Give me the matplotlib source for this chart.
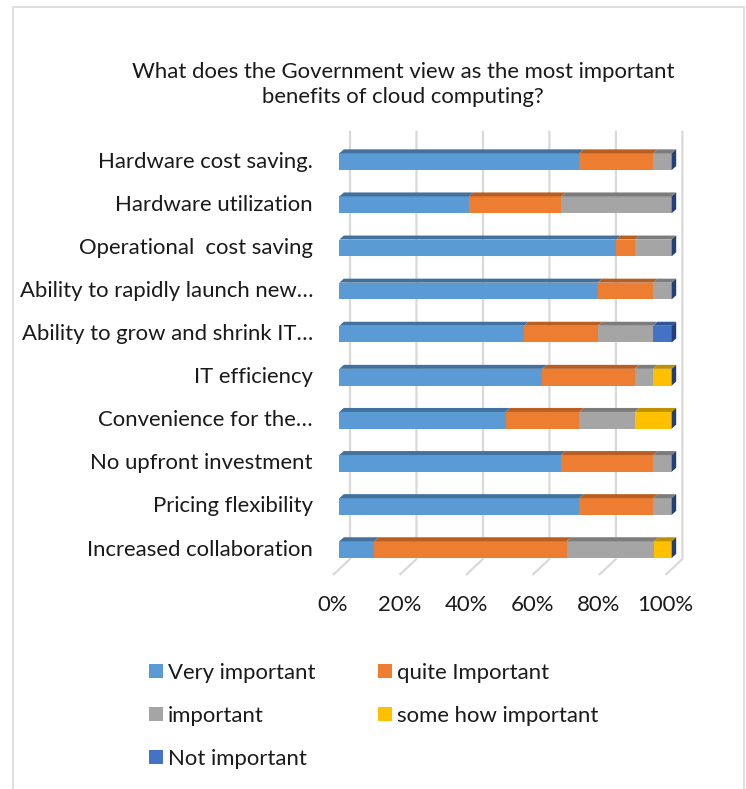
import matplotlib
matplotlib.use("Agg")
import matplotlib.pyplot as plt
from matplotlib.patches import Polygon, Patch, Rectangle
import numpy as np

plt.rcParams["font.family"] = ["Lato", "DejaVu Sans"]

CATEGORIES = [
    "Hardware cost saving.",
    "Hardware utilization",
    "Operational  cost saving",
    "Ability to rapidly launch new\u2026",
    "Ability to grow and shrink IT\u2026",
    "IT efficiency",
    "Convenience for the\u2026",
    "No upfront investment",
    "Pricing flexibility",
    "Increased collaboration",
]
SERIES = ["Very important", "quite Important", "important", "some how important", "Not important"]

# percent of respondents
VERY_IMPORTANT = [72.2, 38.9, 83.3, 77.8, 55.6, 61.1, 50.0, 66.7, 72.2, 10.5]
QUITE_IMPORTANT = [22.2, 27.8, 5.6, 16.7, 22.2, 27.8, 22.2, 27.8, 22.2, 57.9]
IMPORTANT = [5.6, 33.3, 11.1, 5.5, 16.6, 5.5, 16.7, 5.5, 5.6, 26.3]
SOME_HOW = [0.0, 0.0, 0.0, 0.0, 0.0, 5.6, 11.1, 0.0, 0.0, 5.3]
NOT_IMPORTANT = [0.0, 0.0, 0.0, 0.0, 5.6, 0.0, 0.0, 0.0, 0.0, 0.0]
TICKS = [0, 20, 40, 60, 80, 100]
TICK_LABELS = ["0%", "20%", "40%", "60%", "80%", "100%"]

FRONT = ["#5B9BD5", "#ED7D31", "#A5A5A5", "#FFC000", "#4472C4"]
TOP = ["#41719C", "#B85E22", "#7C7C7C", "#BF9000", "#2F5597"]
SIDE = "#233F7A"
GRID = "#D9D9D9"
TEXT = "#1A1A1A"
FS = 15.9

W, H = 746, 789
fig = plt.figure(figsize=(W / 100, H / 100), dpi=100)

# axes placed so that 0..100% spans the front face of the bars
x0, x1 = 339.3, 671.7
rowTop, rowStep = 161.7, 43.1
yTopPx = rowTop - 0.5 * rowStep
yBotPx = rowTop + 9.5 * rowStep
ax = fig.add_axes([x0 / W, 1 - yBotPx / H, (x1 - x0) / W, (yBotPx - yTopPx) / H])
ax.set_xlim(0, 100)
ax.set_ylim(9.5, -0.5)
ax.axis("off")

pxX = 100 / (x1 - x0)
pxY = 1 / rowStep
barH = 16.7 * pxY
dx, dy = 4.5 * pxX, 4.0 * pxY

# back wall and floor
wallOff, floorOff = 10.7 * pxX, -6.3 * pxX
wallTop, floorBack, floorFront = (130.7 - rowTop) * pxY, (559 - rowTop) * pxY, (575 - rowTop) * pxY
for v in TICKS:
    ax.plot([v + wallOff, v + wallOff, v + floorOff], [wallTop, floorBack, floorFront],
            color=GRID, lw=1.6, clip_on=False, zorder=1, solid_capstyle="butt")
for v, lab in zip(TICKS, TICK_LABELS):
    ax.text(v + floorOff, (605 - rowTop) * pxY, lab, ha="center", va="center",
            fontsize=FS, color=TEXT, clip_on=False)

values = np.array([VERY_IMPORTANT, QUITE_IMPORTANT, IMPORTANT, SOME_HOW, NOT_IMPORTANT])
ypos = np.arange(len(CATEGORIES))
left = np.zeros(len(CATEGORIES))
for k in range(len(SERIES)):
    ax.barh(ypos, values[k], left=left, height=barH, color=FRONT[k], zorder=3)
    for i in ypos:
        w = values[k][i]
        if w <= 0:
            continue
        yt = i - barH / 2
        ax.add_patch(Polygon([(left[i], yt), (left[i] + w, yt), (left[i] + w + dx, yt - dy),
                              (left[i] + dx, yt - dy)], closed=True, color=TOP[k],
                             zorder=3, clip_on=False, lw=0))
    left += values[k]

for i in ypos:
    end = left[i]
    yt, yb = i - barH / 2, i + barH / 2
    ax.add_patch(Polygon([(end, yt), (end + dx, yt - dy), (end + dx, yb - dy), (end, yb)],
                         closed=True, color=SIDE, zorder=3, clip_on=False, lw=0))
    ax.text(-26.3 * pxX, i, CATEGORIES[i], ha="right", va="center", fontsize=FS,
            color=TEXT, clip_on=False)

fig.text(403 / W, 1 - 72 / H, "What does the Government view as the most important",
         ha="center", va="center", fontsize=FS, color=TEXT)
fig.text(403 / W, 1 - 97 / H, "benefits of cloud computing?",
         ha="center", va="center", fontsize=FS, color=TEXT)

# legend: column-major order so rows read left to right like the original
order = [0, 2, 4, 1, 3]
handles = [Patch(facecolor=FRONT[k], edgecolor="none", label=SERIES[k]) for k in order]
fig.legend(handles=handles, loc="upper left", bbox_to_anchor=(149 / W, 1 - 663 / H),
           ncol=2, frameon=False, fontsize=FS, handlelength=0.63, handleheight=0.63,
           handletextpad=0.22, columnspacing=2.85, labelspacing=1.04, borderpad=0,
           borderaxespad=0, labelcolor=TEXT)

fig.add_artist(Rectangle((13 / W, -0.01), (744 - 13) / W, 1.01 - 6.5 / H,
                         transform=fig.transFigure, fill=False, edgecolor=GRID, lw=1.2))

fig.savefig("out.png", dpi=100, facecolor="white")
